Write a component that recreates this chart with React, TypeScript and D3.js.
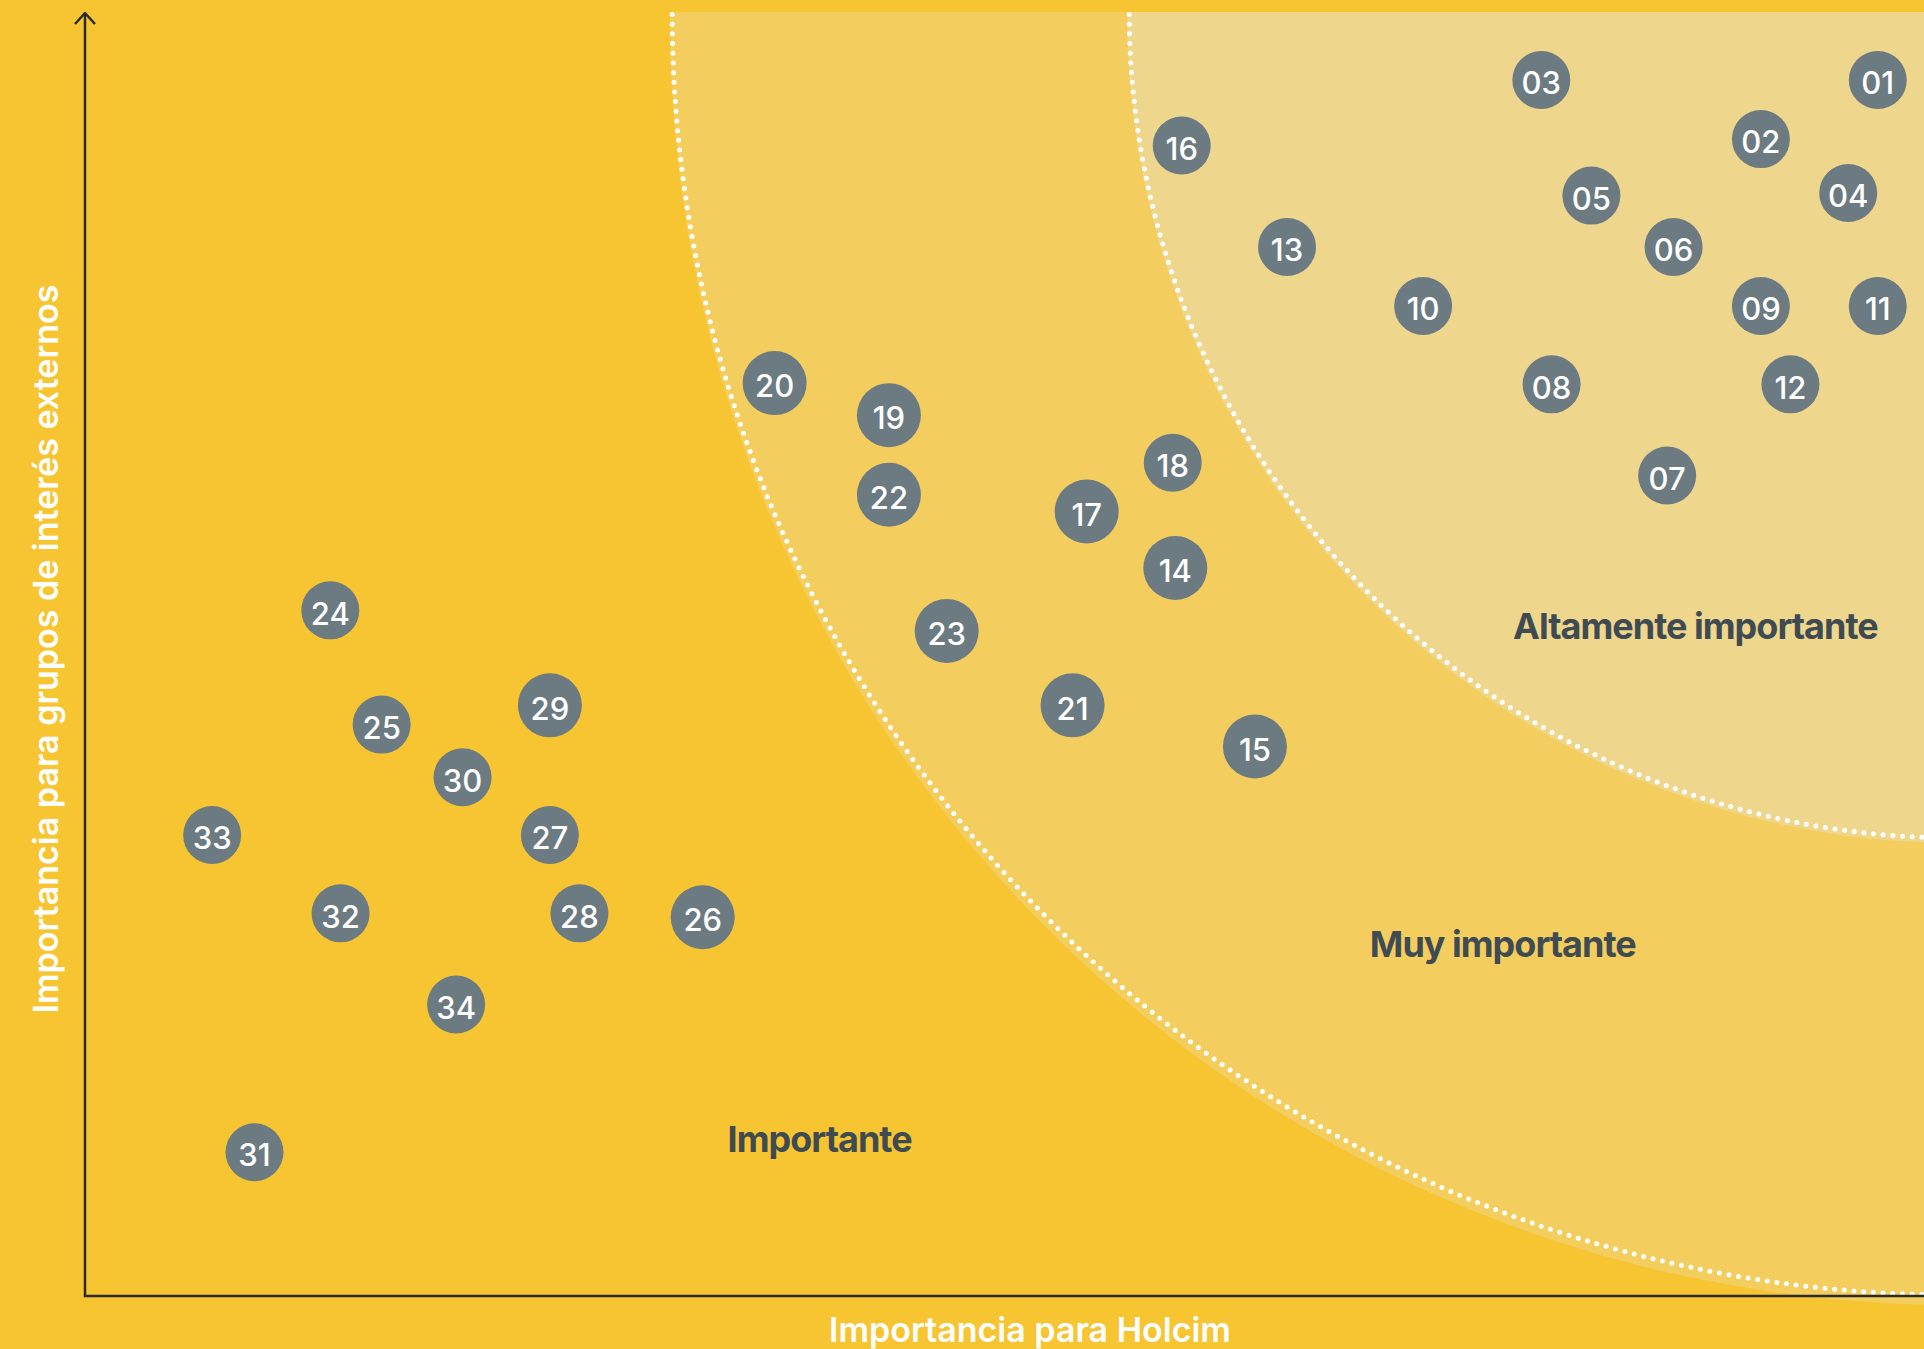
import * as React from "react";
import * as d3 from "d3";

// materiality topics
const topics = [
  "01", "02", "03", "04", "05", "06", "07", "08", "09", "10", "11", "12",
  "13", "14", "15", "16", "17", "18", "19", "20", "21", "22", "23", "24",
  "25", "26", "27", "28", "29", "30", "31", "32", "33", "34",
];
// importance for Holcim (x)
const holcimScore = [
  139.6, 130.5, 113.4, 137.3, 117.3, 123.7, 123.2, 114.2, 130.5, 104.2, 139.6, 132.8,
  93.6, 84.9, 91.1, 85.4, 78.0, 84.7, 62.6, 53.7, 76.9, 62.6, 67.1, 19.1,
  23.1, 48.1, 36.2, 38.5, 36.2, 29.4, 13.2, 19.9, 9.9, 28.9,
];
// importance for external stakeholders (y)
const stakeholderScore = [
  94.7, 90.1, 94.7, 85.9, 85.7, 81.7, 63.9, 71.0, 77.1, 77.1, 77.1, 71.0,
  81.7, 56.7, 42.8, 89.6, 61.1, 64.9, 68.6, 71.1, 46.0, 62.4, 51.8, 53.4,
  44.5, 29.5, 35.9, 29.8, 46.0, 40.4, 11.2, 29.8, 35.9, 22.7,
];
const topicWeight = [
  1, 1, 1, 1, 1, 1, 1, 1, 1, 1, 1, 1,
  1, 2, 2, 1, 2, 1, 2, 2, 2, 2, 2, 1,
  1, 2, 1, 1, 2, 1, 1, 1, 1, 1,
];

const zoneNames = ["Altamente importante", "Muy importante", "Importante"];
const zoneRadius = [64.4, 100];

const xTitle = "Importancia para Holcim";
const yTitle = "Importancia para grupos de interés externos";

const W = 1924;
const H = 1349;

function drawChart(svgRef) {
  const svg = d3.select(svgRef.current).attr("width", W).attr("height", H);
  svg.selectAll("*").remove();

  const x = d3.scaleLinear().domain([0, 143.2]).range([85, 1924]);
  const y = d3.scaleLinear().domain([0, 100]).range([1296, 12]);
  const unit = y(0) - y(1);
  const r = d3.scaleLinear().domain([1, 2]).range([29, 32]);

  svg.append("rect").attr("width", W).attr("height", H).attr("fill", "#F7C531");

  svg.append("defs")
    .append("clipPath")
    .attr("id", "zoneClip")
    .append("rect")
    .attr("x", 0)
    .attr("y", y(100))
    .attr("width", W)
    .attr("height", H);

  const cx = x(145.7);
  const cy = y(100) - 1;
  const zones = svg.append("g").attr("clip-path", "url(#zoneClip)");

  // zone fills sit a little lower than their dotted edge
  zones.append("circle")
    .attr("cx", cx).attr("cy", cy + 8)
    .attr("r", zoneRadius[1] * unit + 2)
    .attr("fill", "#F3CE5F");
  zones.append("circle")
    .attr("cx", cx).attr("cy", cy + 3)
    .attr("r", zoneRadius[0] * unit + 2)
    .attr("fill", "#EFD68D");

  zoneRadius.forEach((zr) => {
    const R = zr * unit;
    const a0 = Math.PI - Math.asin((y(100) + 2.5 - cy) / R);
    const p = d3.path();
    p.arc(cx, cy, R, a0, Math.PI / 2, true);
    zones.append("path")
      .attr("d", p.toString())
      .attr("fill", "none")
      .attr("stroke", "#fff")
      .attr("stroke-width", 5)
      .attr("stroke-linecap", "round")
      .attr("stroke-dasharray", "0 9.7");
  });

  // axes
  const axis = svg.append("g")
    .attr("fill", "none")
    .attr("stroke", "#2A2A2A")
    .attr("stroke-width", 2.5);
  axis.append("path").attr("d", `M${x(0)},${y(100) + 1}V${y(0)}H${W}`);
  axis.append("path")
    .attr("d", `M${x(0) - 10},${y(100) + 12}L${x(0)},${y(100) + 1}L${x(0) + 10},${y(100) + 12}`)
    .attr("stroke-linejoin", "round");

  // zone names
  const labelAt = [[125.4, 51.2], [110.4, 26.4], [57.2, 11.2]];
  svg.selectAll(".zone")
    .data(zoneNames)
    .enter()
    .append("text")
    .classed("zone", true)
    .text((d) => d)
    .attr("x", (d, i) => x(labelAt[i][0]))
    .attr("y", (d, i) => y(labelAt[i][1]))
    .attr("text-anchor", "middle")
    .attr("font-family", "Inter, sans-serif")
    .attr("font-weight", 700)
    .attr("font-size", 36)
    .attr("letter-spacing", -1)
    .attr("fill", "#3F4B52");

  // topic bubbles
  const bubbles = svg.selectAll(".topic")
    .data(topics)
    .enter()
    .append("g")
    .classed("topic", true)
    .attr("transform", (d, i) => `translate(${x(holcimScore[i])},${y(stakeholderScore[i])})`);

  bubbles.append("circle")
    .attr("r", (d, i) => r(topicWeight[i]))
    .attr("fill", "#6C7B82");

  bubbles.append("text")
    .text((d) => d)
    .attr("text-anchor", "middle")
    .attr("dy", "0.46em")
    .attr("font-family", "Inter, sans-serif")
    .attr("font-weight", 500)
    .attr("font-size", 31)
    .attr("fill", "#fff");

  // axis titles
  svg.append("text")
    .text(xTitle)
    .attr("x", 1030)
    .attr("y", 1342)
    .attr("text-anchor", "middle")
    .attr("font-family", "Inter, sans-serif")
    .attr("font-weight", 600)
    .attr("font-size", 34)
    .attr("fill", "#fff");

  svg.append("text")
    .text(yTitle)
    .attr("transform", `translate(58,649) rotate(-90)`)
    .attr("text-anchor", "middle")
    .attr("font-family", "Inter, sans-serif")
    .attr("font-weight", 600)
    .attr("font-size", 34)
    .attr("fill", "#fff");
}

const App = () => {
  const svgRef = React.useRef(null);

  React.useEffect(() => {
    document.body.style.margin = "0";
    drawChart(svgRef);
  }, [svgRef]);

  return (
    <svg ref={svgRef} style={{ position: "absolute", left: 0, top: 0, display: "block" }} />
  );
};

export default App;
